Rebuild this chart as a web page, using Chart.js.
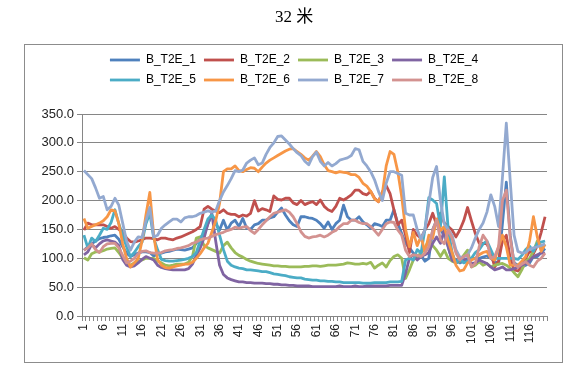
<!DOCTYPE html>
<html>
<head>
<meta charset="utf-8">
<script src="https://cdn.jsdelivr.net/npm/chart.js@4/dist/chart.umd.min.js"></script>
<style>
html, body { margin: 0; padding: 0; background: #fff; }
</style>
</head>
<body>
<canvas id="chart32" width="588" height="375"></canvas>
<script>
// categories 1..120
const labels = [];
for (let i = 1; i <= 120; i++) labels.push(String(i));

const seriesNames = ['B_T2E_1', 'B_T2E_2', 'B_T2E_3', 'B_T2E_4', 'B_T2E_5', 'B_T2E_6', 'B_T2E_7', 'B_T2E_8'];
const seriesColors = ['#4F81BD', '#C0504D', '#9BBB59', '#8064A2', '#4BACC6', '#F79646', '#93A9D0', '#D39290'];
const yTicks = [0, 50, 100, 150, 200, 250, 300, 350];

const b1 = [114,120,125,130,134,136,137,139,140,133, 120,109,103,106,109,111,111,110,104,107,
  109,111,112,114,116,115,114,116,118,126, 135,143,160,175,160,149,166,149,161,166,
  155,169,152,150,158,160,166,166,170,172, 180,187,175,165,158,155,172,172,170,169,
  166,160,152,163,150,160,166,192,172,166, 166,172,163,158,152,160,158,155,166,166,
  184,160,143,126,118,109,103,105,95,100, 150,166,149,140,120,97,97,92,95,100,
  100,100,100,102,104,100,95,90,160,232, 140,92,88,85,88,92,103,103,110,117];
const b2 = [149,161,158,158,158,158,155,152,155,150, 146,135,129,128,130,132,135,135,134,132,
  135,135,133,132,135,137,140,143,146,150, 155,185,190,185,182,179,184,178,176,176,
  172,175,173,178,200,182,186,184,181,208, 202,201,204,204,196,193,200,193,196,198,
  193,201,190,184,181,190,204,201,205,210, 218,218,212,210,216,204,198,215,226,212,
  184,158,166,140,110,150,140,135,149,160, 178,158,178,161,155,149,137,149,165,188,
  165,143,126,126,125,110,85,95,130,140, 100,80,78,85,100,112,108,122,145,172];
const b3 = [101,97,108,111,111,113,116,117,118,110, 100,90,88,92,95,97,100,100,100,95,
  92,88,87,88,90,90,90,93,103,135, 137,122,118,115,112,109,122,128,118,110,
  105,102,98,95,93,91,90,89,88,87, 87,86,86,85,85,85,85,86,86,87,
  87,86,87,88,88,88,89,90,92,91, 90,90,91,90,93,83,88,92,85,96,
  103,106,100,65,80,97,103,109,118,132, 122,114,103,114,100,95,92,95,105,114,
  85,88,94,88,91,85,88,90,91,88, 83,75,68,80,95,100,112,130,120,124];
const b4 = [106,111,124,118,125,130,132,130,128,122, 98,88,85,87,92,98,103,100,97,88,
  84,82,81,80,80,80,80,82,90,105, 118,135,160,178,130,88,72,66,63,61,
  59,59,58,58,57,57,57,56,56,55, 55,54,54,53,53,52,52,52,52,51,
  51,51,51,51,51,51,52,51,51,51, 52,51,51,52,52,52,52,52,52,53,
  53,53,53,74,100,106,97,103,106,110, 126,137,126,149,120,97,92,97,100,95,
  91,92,97,94,91,85,80,82,85,80, 80,82,85,88,91,96,103,106,109,109];
const b5 = [140,118,135,129,140,152,150,162,184,160, 140,120,103,110,120,128,160,178,135,115,
  98,96,95,95,96,97,98,100,103,110, 130,150,168,175,166,140,115,95,88,85,
  83,82,80,80,79,78,77,77,75,73, 72,71,70,68,67,66,66,64,63,62,
  62,61,61,60,60,59,59,58,58,58, 58,58,57,57,57,58,58,58,58,59,
  59,59,60,97,100,97,115,109,150,205, 201,195,155,241,150,110,91,100,92,95,
  100,110,115,125,130,115,100,100,100,100, 100,100,98,105,115,121,112,126,128,130];
const b6 = [169,152,155,158,161,165,172,184,182,160, 125,100,85,92,100,130,175,214,140,98,
  88,84,83,85,87,88,90,90,93,100, 108,118,126,145,165,195,250,255,255,260,
  252,250,254,257,256,250,258,265,270,274, 278,282,286,289,290,285,280,274,270,277,
  285,276,262,252,250,248,250,249,248,245, 245,240,230,225,216,203,198,212,260,285,
  280,250,207,150,120,145,122,138,110,140, 135,168,148,155,130,110,88,78,80,92,
  97,100,106,110,112,100,97,120,140,120, 88,88,88,95,103,130,172,137,112,124];
const b7 = [252,245,238,222,204,207,184,190,204,192, 161,130,114,128,137,136,165,188,137,140,
  152,158,163,168,168,163,170,172,172,174, 178,180,182,180,182,200,215,226,238,252,
  250,253,265,270,274,262,265,280,292,300, 311,312,305,298,290,283,278,268,262,276,
  284,268,260,266,260,264,270,272,274,278, 290,288,268,260,250,236,216,200,230,250,
  250,247,244,178,175,175,150,133,150,195, 240,259,200,160,150,140,115,102,102,106,
  118,135,150,161,180,210,190,155,240,334, 235,140,112,109,110,116,118,120,122,125];
const b8 = [114,118,125,115,110,120,125,126,126,118, 105,92,95,100,108,112,113,110,109,109,
  110,113,114,115,117,118,120,122,126,128, 132,134,135,138,141,143,145,148,150,154,
  152,154,155,148,143,150,158,165,172,178, 180,182,184,180,172,160,146,138,135,137,
  138,140,137,140,145,148,155,160,160,166, 166,162,160,160,155,148,140,150,160,163,
  162,149,140,114,103,106,105,103,109,120, 149,166,132,125,149,135,109,97,103,106,
  85,91,120,140,130,100,103,120,200,218, 137,91,85,90,94,88,85,95,100,109];

const allSeries = [b1, b2, b3, b4, b5, b6, b7, b8];

// outer frame like the spreadsheet chart box
const frameBox = {
  id: 'frameBox',
  beforeDraw(chart) {
    const ctx = chart.ctx;
    ctx.save();
    ctx.fillStyle = '#fff';
    ctx.fillRect(0, 0, chart.width, chart.height);
    ctx.strokeStyle = '#8c8c8c';
    ctx.lineWidth = 1;
    ctx.strokeRect(24.5, 44.5, 538, 318);
    ctx.restore();
  }
};

// keep legend at 4 items per row and give it a fixed height
const legendRows = {
  id: 'legendRows',
  afterInit(chart) {
    const lg = chart.legend;
    if (!lg) return;
    const fit = lg.fit;
    lg.fit = function () {
      const full = this.maxWidth;
      this.maxWidth = 400;
      fit.call(this);
      this.maxWidth = full;
      this.width = full;
      this.height = 68;
    };
  }
};

const datasets = allSeries.map((vals, k) => ({
  label: seriesNames[k],
  data: vals,
  borderColor: seriesColors[k],
  backgroundColor: seriesColors[k],
  borderWidth: 2.8,
  pointRadius: 0,
  tension: 0,
  fill: false,
  borderJoinStyle: 'round',
  order: 8 - k
}));

const sans = "'Liberation Sans', Arial, sans-serif";

new Chart(document.getElementById('chart32'), {
  type: 'line',
  data: { labels: labels, datasets: datasets },
  options: {
    responsive: false,
    animation: false,
    devicePixelRatio: 1,
    layout: { padding: { left: 25, right: 25, top: 0, bottom: 13 } },
    plugins: {
      title: {
        display: true,
        text: '32 米',
        color: '#000',
        font: { family: "'Liberation Serif', 'Noto Sans CJK SC', serif", size: 17, weight: 'normal' },
        padding: { top: 7, bottom: 18.6 }
      },
      legend: {
        display: true,
        position: 'top',
        labels: {
          usePointStyle: true,
          pointStyle: 'line',
          pointStyleWidth: 30,
          padding: 8,
          color: '#000',
          font: { family: sans, size: 12 },
          sort: (a, b) => a.datasetIndex - b.datasetIndex
        }
      },
      tooltip: { enabled: false }
    },
    scales: {
      x: {
        offset: true,
        grid: { display: true, drawOnChartArea: false, offset: true, tickLength: 5, color: '#868686' },
        border: { color: '#868686' },
        ticks: {
          autoSkip: false,
          maxRotation: 90,
          minRotation: 90,
          color: '#222',
          font: { family: sans, size: 12 },
          callback: (v, i) => (i % 5 === 0 ? labels[i] : '')
        },
        afterFit: (s) => { s.height = 46; }
      },
      y: {
        min: yTicks[0],
        max: yTicks[yTicks.length - 1],
        grid: { color: '#868686', tickLength: 5 },
        border: { color: '#868686' },
        ticks: {
          stepSize: 50,
          color: '#222',
          font: { family: sans, size: 13 },
          callback: (v) => v.toFixed(1)
        },
        afterFit: (s) => { s.width = 57; }
      },
      yRight: {
        position: 'right',
        display: true,
        grid: { display: false },
        border: { display: false },
        ticks: { display: false },
        afterFit: (s) => { s.width = 16; }
      }
    }
  },
  plugins: [frameBox, legendRows]
});
</script>
</body>
</html>
